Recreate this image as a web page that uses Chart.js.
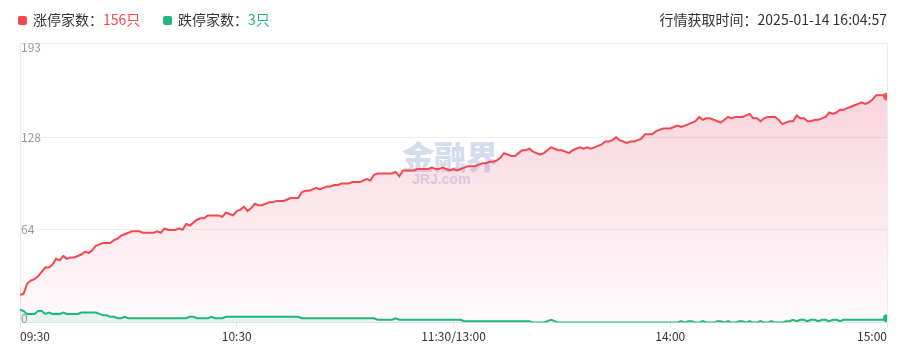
<!DOCTYPE html>
<html>
<head>
<meta charset="utf-8">
<script src="https://cdn.jsdelivr.net/npm/chart.js@4/dist/chart.umd.min.js"></script>
<style>
  html, body { margin: 0; padding: 0; background: #fff; }
  #wrap { position: relative; width: 913px; height: 364px; overflow: hidden; font-family: "Noto Sans CJK SC", "Noto Sans", sans-serif; }
  #c { position: absolute; left: 0; top: 0; z-index: 2; }
  .legend { position: absolute; top: 8px; font-size: 14px; color: #333; line-height: 22px; white-space: nowrap; z-index: 3; }
  .sw { display: inline-block; width: 9px; height: 9px; border-radius: 2px; vertical-align: middle; margin-right: 6px; position: relative; top: -1px; }
  #wm { position: absolute; left: 402px; top: 138px; z-index: 1; color: rgba(150,172,215,0.42); font-weight: 900; font-size: 32px; line-height: 34px; letter-spacing: 0px; }
  #wm small { display: block; font-size: 14px; line-height: 14px; font-weight: 700; margin-left: 10px; font-family: "Liberation Sans", sans-serif; }
</style>
</head>
<body>
<div id="wrap">
  <div id="wm">金融界<small>JRJ.com</small></div>
  <canvas id="c" width="913" height="364"></canvas>
  <div class="legend" style="left:18px"><span class="sw" style="background:#f5474f"></span>涨停家数：<span style="color:#f5474f">156只</span></div>
  <div class="legend" style="left:163px"><span class="sw" style="background:#1fb87a"></span>跌停家数：<span style="color:#1fb87a">3只</span></div>
  <div class="legend" style="right:26px">行情获取时间：2025-01-14 16:04:57</div>
</div>
<script>
// x tick labels and their minute positions (minutes since 09:30, lunch break removed)
const xTickLabels = ['09:30', '10:30', '11:30/13:00', '14:00', '15:00'];
const xTickMinutes = [0, 60, 120, 180, 240];
const yTickValues = [0, 64, 128, 193];

// 涨停家数 per minute (241 points)
const limitUp = [
  19,20,27,29,30,32,35,38,38,40,
  44,43,46,44,45,45,46,47,49,48,
  50,53,54,55,55,55,57,58,60,61,
  62,63,63,63,62,62,62,62,63,62,
  65,64,64,64,65,64,68,67,69,71,
  72,72,74,74,74,74,73,76,75,74,
  77,78,80,77,79,82,81,81,82,83,
  83,84,84,84,85,86,86,86,90,91,
  91,92,93,92,93,94,94,95,95,96,
  96,96,97,97,97,98,99,98,102,103,
  103,103,103,103,104,101,105,105,105,105,
  106,106,106,106,107,106,106,107,106,105,
  106,105,106,107,108,108,108,109,110,110,
  111,111,112,114,117,116,115,115,117,119,
  119,120,118,117,116,117,119,121,120,119,
  119,118,117,119,120,121,120,121,120,121,
  122,123,125,125,126,128,126,125,124,125,
  125,126,127,130,130,130,132,133,134,134,
  134,135,136,135,136,137,138,139,142,140,
  141,141,140,139,138,140,142,141,142,142,
  142,143,144,141,141,139,141,142,142,142,
  140,137,138,139,139,143,141,141,139,139,
  140,140,141,142,145,144,145,147,147,148,
  149,150,151,152,151,152,154,157,157,157,
  156
];

// 跌停家数 per minute (241 points)
const limitDown = [
  9,8,6,6,6,8,8,6,7,6,
  6,6,7,6,6,6,6,7,7,7,
  7,7,6,5,5,4,4,3,3,4,
  3,3,3,3,3,3,3,3,3,3,
  3,3,3,3,3,3,3,4,4,3,
  3,3,3,4,3,3,3,4,4,4,
  4,4,4,4,4,4,4,4,4,4,
  4,4,4,4,4,4,4,4,3,3,
  3,3,3,3,3,3,3,3,3,3,
  3,3,3,3,3,3,3,3,3,2,
  2,2,2,2,3,2,2,2,2,2,
  2,2,2,2,2,2,2,2,2,2,
  2,2,2,1,1,1,1,1,1,1,
  1,1,1,1,1,1,1,1,1,1,
  1,1,0,0,0,0,1,2,1,0,
  0,0,0,0,0,0,0,0,0,0,
  0,0,0,0,0,0,0,0,0,0,
  0,0,0,0,0,0,0,0,0,0,
  0,0,0,1,0,1,1,0,0,1,
  0,0,0,1,1,0,1,0,0,1,
  1,0,1,0,0,1,0,0,1,0,
  0,0,1,1,2,1,2,2,1,2,
  2,1,2,2,1,2,2,1,2,2,
  2,2,2,2,2,2,2,2,2,2,
  3
];

const RED = '#f5474f';
const GREEN = '#1fb87a';

function vGrad(chart, top, bottom) {
  const { ctx, chartArea } = chart;
  if (!chartArea) return null;
  const g = ctx.createLinearGradient(0, chartArea.top, 0, chartArea.bottom);
  g.addColorStop(0, top);
  g.addColorStop(1, bottom);
  return g;
}

const lastIdx = limitUp.length - 1;

new Chart(document.getElementById('c'), {
  type: 'line',
  data: {
    datasets: [
      {
        label: '跌停家数',
        data: limitDown.map((v, i) => ({ x: i, y: v })),
        borderColor: GREEN,
        borderWidth: 2,
        fill: 'origin',
        backgroundColor: (c) => vGrad(c.chart, 'rgba(31,184,122,0.25)', 'rgba(31,184,122,0.10)'),
        pointRadius: (c) => c.dataIndex === lastIdx ? 4 : 0,
        pointBackgroundColor: GREEN,
        pointBorderWidth: 0,
        tension: 0,
        order: 1
      },
      {
        label: '涨停家数',
        data: limitUp.map((v, i) => ({ x: i, y: v })),
        borderColor: RED,
        borderWidth: 2,
        fill: 'origin',
        backgroundColor: (c) => vGrad(c.chart, 'rgba(236,120,150,0.38)', 'rgba(236,120,150,0.03)'),
        pointRadius: (c) => c.dataIndex === lastIdx ? 4 : 0,
        pointBackgroundColor: 'rgba(245,71,79,0.85)',
        pointBorderWidth: 0,
        tension: 0,
        order: 2
      }
    ]
  },
  options: {
    responsive: false,
    animation: false,
    devicePixelRatio: 1,
    layout: { padding: { left: 18, right: 26, top: 43, bottom: 18 } },
    plugins: { legend: { display: false }, tooltip: { enabled: false } },
    scales: {
      x: {
        type: 'linear',
        min: 0,
        max: 240,
        afterBuildTicks: (s) => { s.ticks = xTickMinutes.map(v => ({ value: v })); },
        ticks: {
          autoSkip: false,
          maxRotation: 0,
          align: 'inner',
          padding: 2,
          color: '#333',
          font: { size: 12, family: '"Noto Sans CJK SC", "Noto Sans", sans-serif' },
          callback: (v) => xTickLabels[xTickMinutes.indexOf(v)]
        },
        grid: {
          color: (c) => (c.index === 0 || c.index === xTickMinutes.length - 1) ? '#ededed' : 'rgba(0,0,0,0)',
          tickColor: '#e3e3e3',
          tickLength: 5,
          drawOnChartArea: true
        },
        border: { display: true, color: '#e6e6e6' }
      },
      y: {
        min: 0,
        max: 193,
        afterBuildTicks: (s) => { s.ticks = yTickValues.map(v => ({ value: v })); },
        ticks: {
          mirror: true,
          padding: 1,
          color: '#999',
          font: { size: 12, lineHeight: 0.72, family: '"Noto Sans CJK SC", "Noto Sans", sans-serif' },
          callback: (v) => v === yTickValues[yTickValues.length - 1] ? ['', String(v)] : (v === 0 ? [String(v), ''] : String(v))
        },
        grid: { color: '#efefef', drawTicks: false },
        border: { display: false }
      }
    }
  }
});
</script>
</body>
</html>
